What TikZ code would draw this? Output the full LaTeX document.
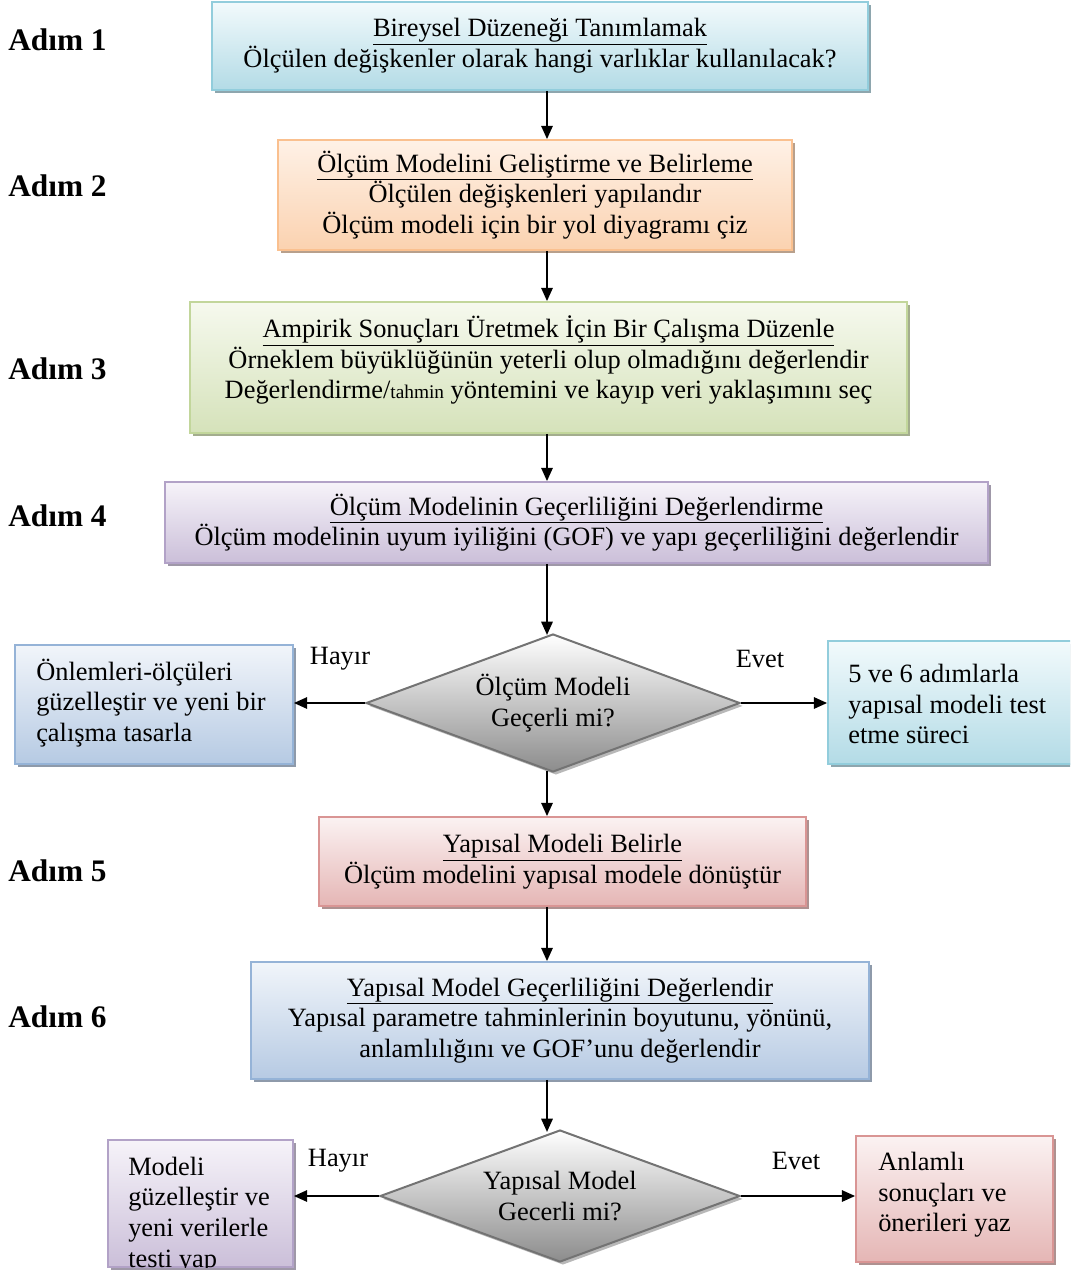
\documentclass[tikz,border=0pt]{standalone}
\usepackage{fontspec}
\setmainfont{Liberation Serif}
\usetikzlibrary{shapes.geometric,shadows,arrows.meta,calc}

% fill gradients (top, bottom), outline and shadow colours
\definecolor{aquaT}{HTML}{F2FAFC}\definecolor{aquaB}{HTML}{B3DBE6}\definecolor{aquaL}{HTML}{92CDDC}\definecolor{aquaS}{HTML}{8EA6AE}
\definecolor{oranT}{HTML}{FEF1E6}\definecolor{oranB}{HTML}{FBD2B0}\definecolor{oranL}{HTML}{FAC08F}\definecolor{oranS}{HTML}{B8A08C}
\definecolor{grenT}{HTML}{F6F9EE}\definecolor{grenB}{HTML}{D5E2BA}\definecolor{grenL}{HTML}{C2D69B}\definecolor{grenS}{HTML}{A3AD8E}
\definecolor{purpT}{HTML}{F6F3F9}\definecolor{purpB}{HTML}{CBBFD9}\definecolor{purpL}{HTML}{B2A2C7}\definecolor{purpS}{HTML}{9F98A8}
\definecolor{blueT}{HTML}{F1F5FA}\definecolor{blueB}{HTML}{B6CAE3}\definecolor{bluL}{HTML}{95B3D7}\definecolor{bluS}{HTML}{8E9AAA}
\definecolor{redT}{HTML}{FBF2F2}\definecolor{redB}{HTML}{E5B6B5}\definecolor{redL}{HTML}{D99594}\definecolor{redS}{HTML}{AE9190}

\tikzset{
  panel/.style n args={4}{draw=#3, line width=1.3pt, top color=#1, bottom color=#2,
    inner sep=2pt, align=center,
    drop shadow={shadow xshift=2.6pt, shadow yshift=-2.6pt, fill=#4, opacity=1}},
  aqua/.style={panel={aquaT}{aquaB}{aquaL}{aquaS}},
  orng/.style={panel={oranT}{oranB}{oranL}{oranS}},
  gren/.style={panel={grenT}{grenB}{grenL}{grenS}},
  purp/.style={panel={purpT}{purpB}{purpL}{purpS}},
  blue/.style={panel={blueT}{blueB}{bluL}{bluS}},
  rose/.style={panel={redT}{redB}{redL}{redS}},
  decision/.style={diamond, draw=black!55, line width=1.5pt, top color=white,
    bottom color=black!45, inner sep=0pt, align=center, aspect=2.7,
    drop shadow={shadow xshift=2.2pt, shadow yshift=-2.2pt, fill=black!28, opacity=1}},
  plain/.style={align=left, inner sep=0pt, anchor=west},
  steplabel/.style={font=\fontsize{23.5}{26}\selectfont\bfseries, anchor=west, inner sep=0pt},
  arr/.style={line width=1.6pt, -{Triangle[length=10pt,width=8.5pt]}},
}

\begin{document}
\begin{tikzpicture}[x=0.75pt, y=-0.75pt, font=\fontsize{19.8}{23}\selectfont]
\useasboundingbox (0,0) rectangle (1070,1280);
\clip (0,0) rectangle (1070,1280);
\coordinate (spine) at (547,0);

% step labels
\node[steplabel] (s1) at (8,40)   {Adım 1};
\node[steplabel] (s2) at (8,186)  {Adım 2};
\node[steplabel] (s3) at (8,369)  {Adım 3};
\node[steplabel] (s4) at (8,516)  {Adım 4};
\node[steplabel] (s5) at (8,871)  {Adım 5};
\node[steplabel] (s6) at (8,1017) {Adım 6};

% main chain
\node[aqua, minimum width=492pt, minimum height=66pt] (b1) at (540,46)
  {\underline{Bireysel Düzeneği Tanımlamak}\\Ölçülen değişkenler olarak hangi varlıklar kullanılacak?};
\node[orng, minimum width=385.5pt, minimum height=82.5pt] (b2) at (535,195)
  {\underline{Ölçüm Modelini Geliştirme ve Belirleme}\\Ölçülen değişkenleri yapılandır\\Ölçüm modeli için bir yol diyagramı çiz};
\node[gren, minimum width=537.75pt, minimum height=98.25pt] (b3) at (548.5,367.5) {};
\node[align=center, inner sep=0pt] (t3) at (548.5,360)
  {\underline{Ampirik Sonuçları Üretmek İçin Bir Çalışma Düzenle}\\Örneklem büyüklüğünün yeterli olup olmadığını değerlendir\\Değerlendirme/{\fontsize{14.5}{16}\selectfont tahmin} yöntemini ve kayıp veri yaklaşımını seç};
\node[purp, minimum width=617.25pt, minimum height=60.75pt] (b4) at (576.5,522.5)
  {\underline{Ölçüm Modelinin Geçerliliğini Değerlendirme}\\Ölçüm modelinin uyum iyiliğini (GOF) ve yapı geçerliliğini değerlendir};

% first decision
\node[decision, minimum width=280.5pt, minimum height=103.5pt] (d1) at (553,703)
  {Ölçüm Modeli\\Geçerli mi?};
\node[blue, minimum width=208.5pt, minimum height=89.25pt] (l1) at (154,704.5) {};
\node[plain] (l1t) at (36,703) {Önlemleri-ölçüleri\\güzelleştir ve yeni bir\\çalışma tasarla};
\node[aqua, minimum width=192.75pt, minimum height=92.25pt] (r1) at (956.5,702.5) {};
\node[plain] (r1t) at (848,704) {5 ve 6 adımlarla\\yapısal modeli test\\etme süreci};
\node (h1) at (340,659) {Hayır};
\node (e1) at (760,659) {Evet};

\node[rose, minimum width=365.25pt, minimum height=66.75pt] (b5) at (562.5,861.5)
  {\underline{Yapısal Modeli Belirle}\\Ölçüm modelini yapısal modele dönüştür};
\node[blue, minimum width=463.5pt, minimum height=87.75pt] (b6) at (560,1020.5)
  {\underline{Yapısal Model Geçerliliğini Değerlendir}\\Yapısal parametre tahminlerinin boyutunu, yönünü,\\anlamlılığını ve GOF’unu değerlendir};

% second decision
\node[decision, minimum width=270pt, minimum height=99pt] (d2) at (560,1196)
  {Yapısal Model\\Gecerli mi?};
\node[purp, minimum width=138.75pt, minimum height=95.25pt] (l2) at (200.5,1203.5) {};
\begin{scope}
  \clip (l2.south west) rectangle (l2.north east);
  \node[plain] (l2t) at (128,1215) {Modeli\\güzelleştir ve\\yeni verilerle\\testi yap};
\end{scope}
\node[rose, minimum width=147.75pt, minimum height=94.5pt] (r2) at (954.5,1199) {};
\node[plain] (r2t) at (878,1195) {Anlamlı\\sonuçları ve\\önerileri yaz};
\node (h2) at (338,1161) {Hayır};
\node (e2) at (796,1161) {Evet};

% connectors
\draw[arr] (b1.south -| spine) -- (b2.north -| spine);
\draw[arr] (b2.south -| spine) -- (b3.north -| spine);
\draw[arr] (b3.south -| spine) -- (b4.north -| spine);
\draw[arr] (b4.south -| spine) -- ($(d1.north -| spine)+(0,2)$);
\draw[arr] (d1.west) -- (l1.east |- d1.west);
\draw[arr] (d1.east) -- (r1.west |- d1.east);
\draw[arr] ($(d1.south -| spine)+(0,-2)$) -- (b5.north -| spine);
\draw[arr] (b5.south -| spine) -- (b6.north -| spine);
\draw[arr] (b6.south -| spine) -- ($(d2.north -| spine)+(0,3)$);
\draw[arr] (d2.west) -- (l2.east |- d2.west);
\draw[arr] (d2.east) -- (r2.west |- d2.east);
\end{tikzpicture}
\end{document}
